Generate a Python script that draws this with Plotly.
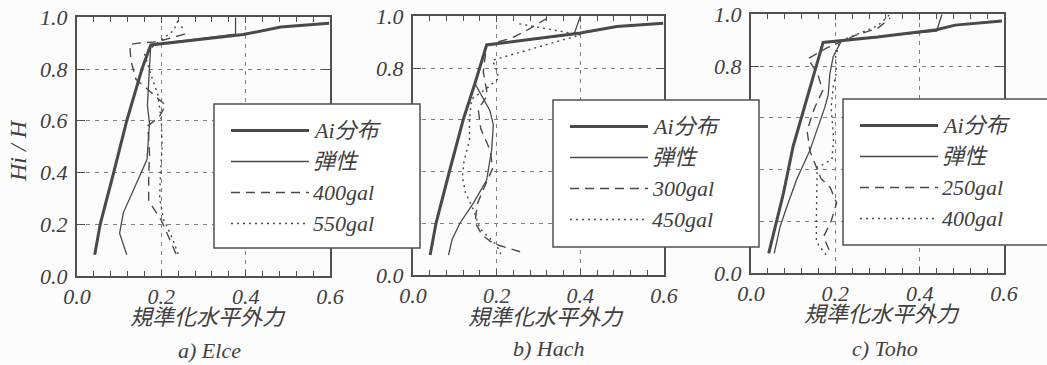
import plotly.graph_objects as go

W, H = 1047, 365

# ---- a) Elce ----
elce_ai_x = [0.042, 0.055, 0.087, 0.118, 0.154, 0.175, 0.394, 0.483, 0.598]
elce_ai_y = [0.082, 0.200, 0.400, 0.600, 0.800, 0.893, 0.933, 0.962, 0.977]
elce_el_x = [0.118, 0.101, 0.110, 0.138, 0.166, 0.172, 0.167, 0.170, 0.175, 0.376, 0.376]
elce_el_y = [0.082, 0.165, 0.245, 0.350, 0.450, 0.590, 0.660, 0.750, 0.893, 0.935, 1.000]
elce_g1_x = [0.235, 0.218, 0.200, 0.170, 0.170, 0.172, 0.168, 0.195, 0.210, 0.165, 0.140, 0.128, 0.125, 0.145, 0.190, 0.255, 0.248]
elce_g1_y = [0.085, 0.150, 0.215, 0.290, 0.385, 0.470, 0.580, 0.615, 0.660, 0.725, 0.760, 0.830, 0.895, 0.900, 0.905, 0.935, 0.965]
elce_g2_x = [0.240, 0.225, 0.205, 0.196, 0.198, 0.202, 0.200, 0.192, 0.175, 0.160, 0.190, 0.230, 0.240]
elce_g2_y = [0.085, 0.150, 0.220, 0.300, 0.400, 0.500, 0.600, 0.700, 0.780, 0.860, 0.900, 0.950, 0.990]

# ---- b) Hach ----
hach_ai_x = [0.041, 0.055, 0.087, 0.120, 0.148, 0.160, 0.176, 0.400, 0.487, 0.598]
hach_ai_y = [0.077, 0.200, 0.400, 0.600, 0.740, 0.800, 0.889, 0.935, 0.960, 0.973]
hach_el_x = [0.085, 0.093, 0.112, 0.144, 0.176, 0.188, 0.192, 0.184, 0.148, 0.160, 0.176, 0.385, 0.400]
hach_el_y = [0.077, 0.135, 0.200, 0.277, 0.367, 0.483, 0.580, 0.635, 0.740, 0.800, 0.889, 0.930, 1.000]
hach_g1_x = [0.256, 0.205, 0.185, 0.165, 0.148, 0.155, 0.172, 0.190, 0.185, 0.162, 0.156, 0.178, 0.168, 0.176, 0.235, 0.275, 0.318]
hach_g1_y = [0.090, 0.115, 0.130, 0.155, 0.205, 0.280, 0.345, 0.410, 0.480, 0.565, 0.640, 0.695, 0.785, 0.889, 0.915, 0.948, 0.990]
hach_g2_x = [0.210, 0.200, 0.160, 0.145, 0.125, 0.118, 0.122, 0.135, 0.135, 0.140, 0.175, 0.205, 0.198, 0.190, 0.400, 0.310, 0.250]
hach_g2_y = [0.080, 0.115, 0.180, 0.250, 0.320, 0.380, 0.440, 0.520, 0.600, 0.680, 0.720, 0.760, 0.800, 0.830, 0.928, 0.955, 0.972]

# ---- c) Toho ----
toho_ai_x = [0.042, 0.077, 0.100, 0.128, 0.152, 0.171, 0.300, 0.440, 0.484, 0.595]
toho_ai_y = [0.076, 0.309, 0.490, 0.649, 0.778, 0.891, 0.912, 0.940, 0.958, 0.974]
toho_el_x = [0.055, 0.069, 0.085, 0.108, 0.140, 0.164, 0.175, 0.183, 0.187, 0.195, 0.215, 0.440, 0.453]
toho_el_y = [0.076, 0.179, 0.256, 0.360, 0.475, 0.585, 0.640, 0.688, 0.770, 0.836, 0.900, 0.935, 1.000]
toho_g1_x = [0.185, 0.172, 0.190, 0.203, 0.188, 0.166, 0.140, 0.133, 0.150, 0.170, 0.158, 0.135, 0.180, 0.250, 0.300, 0.330]
toho_g1_y = [0.090, 0.140, 0.200, 0.270, 0.330, 0.365, 0.470, 0.550, 0.635, 0.705, 0.770, 0.828, 0.870, 0.920, 0.945, 0.985]
toho_g2_x = [0.178, 0.155, 0.155, 0.156, 0.157, 0.172, 0.192, 0.196, 0.190, 0.195, 0.203, 0.200, 0.210, 0.300, 0.330]
toho_g2_y = [0.070, 0.120, 0.200, 0.300, 0.410, 0.420, 0.440, 0.520, 0.640, 0.720, 0.780, 0.830, 0.895, 0.955, 1.000]

series_names = ["Ai分布", "弾性"]
gal_labels = [["400gal", "550gal"], ["300gal", "450gal"], ["250gal", "400gal"]]
captions = ["a) Elce", "b) Hach", "c) Toho"]
x_title = "規準化水平外力"
y_title = "Hi / H"

x_ticks = [0.0, 0.2, 0.4, 0.6]
y_ticks = [0.0, 0.2, 0.4, 0.6, 0.8, 1.0]

panels = [
    dict(ai=(elce_ai_x, elce_ai_y), el=(elce_el_x, elce_el_y),
         g1=(elce_g1_x, elce_g1_y), g2=(elce_g2_x, elce_g2_y),
         box=(77, 330, 17.25, 276), leg=(214, 420, 104, 248),
         xt=(207.5, 315), cap=(209, 350)),
    dict(ai=(hach_ai_x, hach_ai_y), el=(hach_el_x, hach_el_y),
         g1=(hach_g1_x, hach_g1_y), g2=(hach_g2_x, hach_g2_y),
         box=(413, 664, 16.25, 275), leg=(553, 759, 100, 247),
         xt=(546, 315), cap=(548, 348)),
    dict(ai=(toho_ai_x, toho_ai_y), el=(toho_el_x, toho_el_y),
         g1=(toho_g1_x, toho_g1_y), g2=(toho_g2_x, toho_g2_y),
         box=(751, 1004, 14.25, 273), leg=(843, 1049, 99, 245),
         xt=(882, 312), cap=(884.5, 348)),
]

INK = "#4a4a4a"
SERIF = "'Liberation Serif', 'DejaVu Serif', serif"
MIXED = "'Liberation Serif', 'Noto Sans CJK JP', serif"
DASH = "9px,6px"
DOT = "2px,4px"

styles = [
    dict(width=3.0, dash="solid"),
    dict(width=1.3, dash="solid"),
    dict(width=1.4, dash=DASH),
    dict(width=1.4, dash=DOT),
]


def px_x(v):
    return v / W


def px_y(v):
    return 1 - v / H


fig = go.Figure()
shapes = []
annotations = []

for i, p in enumerate(panels):
    k = "" if i == 0 else str(i + 1)
    xa, ya = "x" + k, "y" + k
    for (xs, ys), st in zip([p["ai"], p["el"], p["g1"], p["g2"]], styles):
        fig.add_trace(go.Scatter(
            x=xs, y=ys, xaxis=xa, yaxis=ya, mode="lines",
            line=dict(color=INK, width=st["width"], dash=st["dash"]),
            showlegend=False, hoverinfo="skip", cliponaxis=True,
        ))

    x0, x1, y0, y1 = p["box"]
    axis_common = dict(
        automargin=False,
        showline=True, linecolor="#505050", linewidth=2, mirror="allticks",
        ticks="inside", tickcolor="#505050", tickwidth=1.3,
        showgrid=True, gridcolor="#808080", gridwidth=1, griddash="4px,5px",
        zeroline=False, fixedrange=True,
        tickfont=dict(family=SERIF, size=22, color="#404040", style="italic"),
    )
    fig.layout["xaxis" + k] = dict(
        axis_common, domain=[px_x(x0), px_x(x1)], anchor=ya,
        range=[0, 0.6], tickvals=x_ticks, ticktext=[f"{t:.1f}" for t in x_ticks],
        ticklen=6,
        minor=dict(dtick=0.04, tick0=0, ticks="inside", ticklen=5,
                   tickcolor="#505050", tickwidth=1.2, showgrid=False),
    )
    fig.layout["yaxis" + k] = dict(
        axis_common, domain=[px_y(y1), px_y(y0)], anchor=xa,
        range=[0, 1.0], tickvals=y_ticks, ticktext=[f"{t:.1f}" for t in y_ticks],
        ticklen=8, ticklabelstandoff=3,
    )

    # legend box drawn over the neighbouring panel
    lx0, lx1, ly0, ly1 = p["leg"]
    shapes.append(dict(type="rect", xref="paper", yref="paper", layer="above",
                       x0=px_x(lx0), x1=px_x(lx1), y0=px_y(ly1), y1=px_y(ly0),
                       fillcolor="white", line=dict(color="#505050", width=1.5)))
    labels = series_names + gal_labels[i]
    for r, (lab, st) in enumerate(zip(labels, styles)):
        ry = ly0 + 26.5 + r * 31
        shapes.append(dict(type="line", xref="paper", yref="paper", layer="above",
                           x0=px_x(lx0 + 17), x1=px_x(lx0 + 95),
                           y0=px_y(ry), y1=px_y(ry),
                           line=dict(color=INK, width=st["width"], dash=st["dash"])))
        annotations.append(dict(
            text=lab, xref="paper", yref="paper", x=px_x(lx0 + 97), y=px_y(ry),
            xanchor="left", yanchor="middle", showarrow=False,
            font=dict(family=MIXED, size=22, color="#404040", style="italic"),
        ))

    annotations.append(dict(
        text=x_title, xref="paper", yref="paper", x=px_x(p["xt"][0]), y=px_y(p["xt"][1]),
        xanchor="center", yanchor="middle", showarrow=False,
        font=dict(family="Noto Sans CJK JP", size=22, color="#404040", style="italic"),
    ))
    annotations.append(dict(
        text=captions[i], xref="paper", yref="paper", x=px_x(p["cap"][0]), y=px_y(p["cap"][1]),
        xanchor="center", yanchor="middle", showarrow=False,
        font=dict(family=SERIF, size=22, color="#404040", style="italic"),
    ))

annotations.append(dict(
    text=y_title, xref="paper", yref="paper", x=px_x(18), y=px_y(151),
    xanchor="center", yanchor="middle", textangle=-90, showarrow=False,
    font=dict(family=SERIF, size=24, color="#404040", style="italic"),
))

fig.update_layout(
    width=W, height=H, margin=dict(l=0, r=0, t=0, b=0),
    paper_bgcolor="#fcfcfc", plot_bgcolor="#fcfcfc",
    shapes=shapes, annotations=annotations, showlegend=False,
)

fig.write_html("out.html", config={"displayModeBar": False})
